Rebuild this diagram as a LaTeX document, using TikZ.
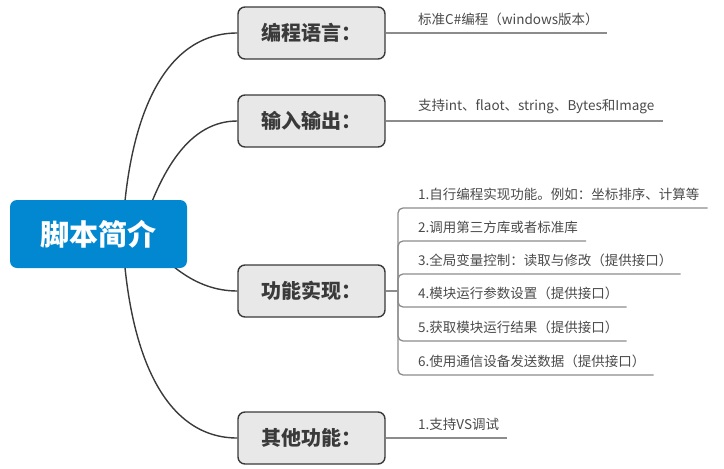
\documentclass[tikz,border=0pt]{standalone}
\usepackage{fontspec}
\newfontfamily\cjk{Noto Sans CJK SC}
\usetikzlibrary{positioning,calc,backgrounds}
\definecolor{rootblue}{HTML}{0288D1}
\definecolor{boxgray}{HTML}{E8E8E8}
\definecolor{edgedark}{HTML}{3A3A3A}
\definecolor{leafline}{HTML}{8C8C8C}
\definecolor{leaftext}{HTML}{4A4A4A}
\tikzset{font=\cjk}

\begin{document}
\begin{tikzpicture}[x=1pt,y=-1pt]
	\tikzstyle{root}=[rectangle, rounded corners=7pt, fill=rootblue, text=white, font=\cjk\bfseries\fontsize{29}{34}\selectfont, minimum width=177pt, minimum height=68pt]
	\tikzstyle{branch}=[rectangle, rounded corners=7pt, draw=edgedark, line width=1.4pt, fill=boxgray, text=edgedark, font=\cjk\bfseries\fontsize{20}{24}\selectfont, minimum width=147pt, minimum height=52pt]
	\tikzstyle{leaf}=[anchor=south west, inner xsep=8pt, inner ysep=7pt, text=leaftext, font=\cjk\fontsize{13.5}{16}\selectfont]
	\tikzstyle{curve}=[draw=edgedark, line width=1.4pt]
	\tikzstyle{twig}=[draw=leafline, line width=1.3pt, rounded corners=5pt]

	\useasboundingbox (0,0) rectangle (724,469);

	% main topics
	\node[root] (root) at (98.5,234) {脚本简介};
	\node[branch] (lang) at (311.5,33) {编程语言：};
	\node[branch] (io) at (311.5,121) {输入输出：};
	\node[branch] (func) at (311.5,291) {功能实现：};
	\node[branch] (other) at (311.5,438) {其他功能：};

	% subtopics
	\node[leaf] (lang1) at (410,33) {标准C\#编程（windows版本）};
	\node[leaf] (io1) at (410,121) {支持int、flaot、string、Bytes和Image};
	\coordinate (fork) at (398,291);
	\node[leaf] (func1) at (410,208) {1.自行编程实现功能。例如：坐标排序、计算等};
	\node[leaf] (func2) at (410,241) {2.调用第三方库或者标准库};
	\node[leaf] (func3) at (410,274) {3.全局变量控制：读取与修改（提供接口）};
	\node[leaf] (func4) at (410,307) {4.模块运行参数设置（提供接口）};
	\node[leaf] (func5) at (410,341) {5.获取模块运行结果（提供接口）};
	\node[leaf] (func6) at (410,375) {6.使用通信设备发送数据（提供接口）};
	\node[leaf] (other1) at (410,438) {1.支持VS调试};

	\begin{scope}[on background layer]
		\draw[curve] ($(root.center)+(24,0)$) .. controls +(6,-124) and +(-70,0) .. (lang.west);
		\draw[curve] ($(root.center)+(42,0)$) .. controls +(20,-64) and +(-48,0) .. (io.west);
		\draw[curve] ($(root.center)+(42,0)$) .. controls +(25,28) and +(-43,0) .. (func.west);
		\draw[curve] ($(root.center)+(24,0)$) .. controls +(6,126) and +(-70,0) .. (other.west);
	\end{scope}

	\draw[twig] (lang.east) -- (lang1.south west) -- (lang1.south east);
	\draw[twig] (io.east) -- (io1.south west) -- (io1.south east);
	\draw[twig] (other.east) -- (other1.south west) -- (other1.south east);
	\draw[twig] (func.east) -- (fork);
	\foreach \i in {1,...,6}
		\draw[twig] (fork) |- (func\i.south west) -- (func\i.south east);
\end{tikzpicture}
\end{document}
